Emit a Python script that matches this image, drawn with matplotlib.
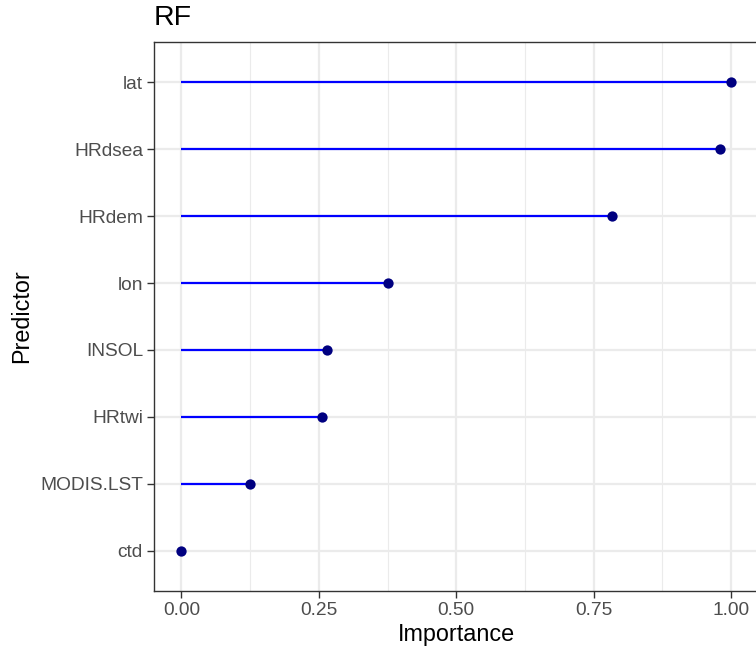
import matplotlib
matplotlib.use("Agg")
import matplotlib.pyplot as plt
from matplotlib.ticker import FixedLocator

plt.rcParams['font.family'] = ['Liberation Sans', 'DejaVu Sans']

predictors = ["ctd", "MODIS.LST", "HRtwi", "INSOL", "lon", "HRdem", "HRdsea", "lat"]
importance = [0.0, 0.125, 0.256, 0.265, 0.375, 0.784, 0.980, 1.0]
xticks = [0.0, 0.25, 0.5, 0.75, 1.0]
xticklabels = ["0.00", "0.25", "0.50", "0.75", "1.00"]
minor_x = [0.125, 0.375, 0.625, 0.875]

W, H = 756, 653
fig = plt.figure(figsize=(W/100, H/100), dpi=100)
left, right, top, bottom = 154, 758.5, 42, 591
ax = fig.add_axes([left/W, 1-bottom/H, (right-left)/W, (bottom-top)/H])

ypos = list(range(1, len(predictors)+1))
ax.set_xlim(-0.05, 1.05)
ax.set_ylim(0.4, len(predictors)+0.6)

ax.set_xticks(xticks)
ax.set_xticklabels(xticklabels)
ax.xaxis.set_minor_locator(FixedLocator(minor_x))
ax.set_yticks(ypos)
ax.set_yticklabels(predictors)

for x in xticks:
    ax.axvline(x, color="#EBEBEB", lw=1.6, zorder=0)
for x in minor_x:
    ax.axvline(x, color="#EBEBEB", lw=0.8, zorder=0)
for y in ypos:
    ax.axhline(y, color="#EBEBEB", lw=1.6, zorder=0)

ax.hlines(ypos, 0, importance, color="blue", lw=1.6, zorder=2)
ax.scatter(importance, ypos, s=55, color="#000080", zorder=3, linewidths=0, clip_on=False)

for s in ax.spines.values():
    s.set_color("#333333")
    s.set_linewidth(1.0)

ax.tick_params(axis="both", which="major", length=5, width=1.0, color="#333333",
               labelsize=13.8, labelcolor="#4D4D4D", pad=3)
ax.tick_params(axis="x", which="minor", length=0)

ax.set_xlabel("Importance", fontsize=16.8, color="black", labelpad=3)
ax.set_ylabel("Predictor", fontsize=16.8, color="black", labelpad=5)
ax.set_title("RF", fontsize=20.5, loc="left", pad=12, x=-0.001)

fig.savefig("out.png", dpi=100)
